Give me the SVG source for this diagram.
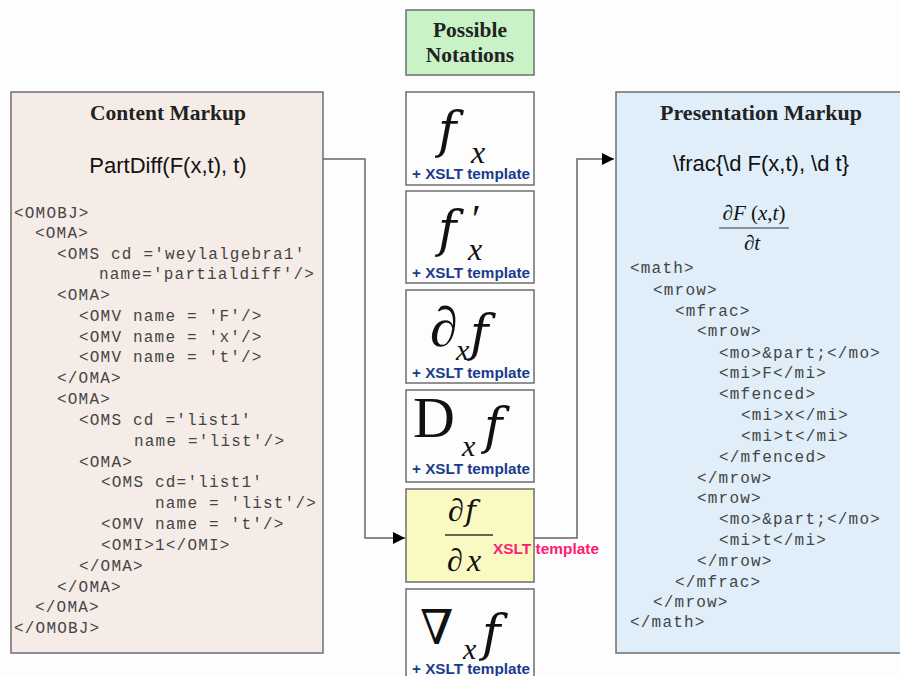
<svg xmlns="http://www.w3.org/2000/svg" width="900" height="676" viewBox="0 0 900 676">
<style>
.box{stroke:#6e6e6e;stroke-width:1.5}
.title{font-family:"Liberation Serif",serif;font-weight:bold;font-size:21.5px;fill:#222;text-anchor:middle}
.expr{font-family:"Liberation Sans",Arial,sans-serif;font-size:22px;fill:#111;text-anchor:middle}
.code{font-family:"Liberation Mono","Courier New",monospace;font-size:16px;letter-spacing:1.2px;fill:#444;white-space:pre}
.m{font-family:"Liberation Serif","DejaVu Serif",serif;fill:#111}
.i{font-style:italic}
.fi{font-family:"DejaVu Serif",serif;font-style:italic;fill:#111}
.xslt{font-family:"Liberation Sans",Arial,sans-serif;font-weight:bold;font-size:14px;fill:#1a3b8c}
.conn{fill:none;stroke:#666;stroke-width:1.5}
</style>
<defs>
<marker id="arr" viewBox="0 0 10 10" refX="10" refY="5" markerWidth="14" markerHeight="12" markerUnits="userSpaceOnUse" orient="auto">
<path d="M0,0 L10,5 L0,10 Z" fill="#000"/>
</marker>
</defs>
<rect width="900" height="676" fill="#fdfdfd"/>

<g id="connectors">
<path class="conn" d="M323,159 H365 V538 H405" marker-end="url(#arr)"/>
<path class="conn" d="M534,538 H577 V159 H614" marker-end="url(#arr)"/>
</g>

<g id="content-markup">
<rect class="box" x="11" y="92" width="312" height="561" fill="#f5ece8"/>
<text class="title" x="168" y="120">Content Markup</text>
<text class="expr" x="168" y="173">PartDiff(F(x,t), t)</text>
<text class="code" x="14" y="218">&lt;OMOBJ&gt;</text>
<text class="code" x="35" y="238">&lt;OMA&gt;</text>
<text class="code" x="57" y="259">&lt;OMS cd ='weylalgebra1'</text>
<text class="code" x="99" y="279">name='partialdiff'/&gt;</text>
<text class="code" x="57" y="300">&lt;OMA&gt;</text>
<text class="code" x="79" y="321">&lt;OMV name = 'F'/&gt;</text>
<text class="code" x="79" y="342">&lt;OMV name = 'x'/&gt;</text>
<text class="code" x="79" y="362">&lt;OMV name = 't'/&gt;</text>
<text class="code" x="57" y="383">&lt;/OMA&gt;</text>
<text class="code" x="57" y="404">&lt;OMA&gt;</text>
<text class="code" x="79" y="425">&lt;OMS cd ='list1'</text>
<text class="code" x="134" y="446">name ='list'/&gt;</text>
<text class="code" x="79" y="467">&lt;OMA&gt;</text>
<text class="code" x="101" y="487">&lt;OMS cd='list1'</text>
<text class="code" x="155" y="508">name = 'list'/&gt;</text>
<text class="code" x="101" y="529">&lt;OMV name = 't'/&gt;</text>
<text class="code" x="101" y="550">&lt;OMI&gt;1&lt;/OMI&gt;</text>
<text class="code" x="79" y="571">&lt;/OMA&gt;</text>
<text class="code" x="57" y="592">&lt;/OMA&gt;</text>
<text class="code" x="35" y="612">&lt;/OMA&gt;</text>
<text class="code" x="14" y="633">&lt;/OMOBJ&gt;</text>
</g>

<g id="possible-notations">
<rect class="box" x="406" y="10" width="128" height="65" fill="#c9f2c6"/>
<text class="title" x="470" y="37">Possible</text>
<text class="title" x="470" y="62">Notations</text>
</g>

<g id="notation-fx">
<rect class="box" x="406" y="92" width="128" height="93" fill="#fdfdfd"/>
<text class="fi" x="438" y="147" font-size="50">f</text>
<text class="m i" x="471" y="163" font-size="32">x</text>
<text class="xslt" x="412" y="179" textLength="118" lengthAdjust="spacingAndGlyphs">+ XSLT template</text>
</g>

<g id="notation-fprime">
<rect class="box" x="406" y="191" width="128" height="92" fill="#fdfdfd"/>
<text class="fi" x="438" y="246" font-size="50">f</text>
<text class="m" x="472" y="232" font-size="40">′</text>
<text class="m i" x="468" y="260" font-size="32">x</text>
<text class="xslt" x="412" y="278" textLength="118" lengthAdjust="spacingAndGlyphs">+ XSLT template</text>
</g>

<g id="notation-partial">
<rect class="box" x="406" y="290" width="128" height="93" fill="#fdfdfd"/>
<text class="m" x="430" y="346" font-size="56">∂</text>
<text class="m i" x="456" y="360" font-size="30">x</text>
<text class="fi" x="470" y="350" font-size="50">f</text>
<text class="xslt" x="412" y="378" textLength="118" lengthAdjust="spacingAndGlyphs">+ XSLT template</text>
</g>

<g id="notation-D">
<rect class="box" x="406" y="390" width="128" height="92" fill="#fdfdfd"/>
<text class="m" x="413" y="437" font-size="58">D</text>
<text class="m i" x="462" y="456" font-size="30">x</text>
<text class="fi" x="484" y="443" font-size="50">f</text>
<text class="xslt" x="412" y="474" textLength="118" lengthAdjust="spacingAndGlyphs">+ XSLT template</text>
</g>

<g id="notation-frac">
<rect class="box" x="406" y="489" width="128" height="93" fill="#fbf9c2"/>
<text class="m" x="448" y="521" font-size="32">∂</text>
<text class="fi" x="465" y="521" font-size="30">f</text>
<line x1="445" y1="535" x2="493" y2="535" stroke="#333" stroke-width="1.5"/>
<text class="m" x="447" y="571" font-size="32">∂</text>
<text class="m i" x="467" y="571" font-size="32">x</text>
<text class="xslt" x="493" y="554" textLength="106" lengthAdjust="spacingAndGlyphs" style="fill:#ff1a75">XSLT template</text>
</g>

<g id="notation-nabla">
<rect class="box" x="406" y="589" width="128" height="95" fill="#fdfdfd"/>
<text class="m" x="420" y="644" font-size="48">∇</text>
<text class="m i" x="463" y="659" font-size="30">x</text>
<text class="fi" x="482" y="650" font-size="50">f</text>
<text class="xslt" x="412" y="674" textLength="118" lengthAdjust="spacingAndGlyphs">+ XSLT template</text>
</g>

<g id="presentation-markup">
<rect class="box" x="616" y="92" width="290" height="561" fill="#dfeef9"/>
<text class="title" x="761" y="120" style="font-size:22px">Presentation Markup</text>
<text class="expr" x="761" y="171">\frac{\d F(x,t), \d t}</text>
<text class="m" x="754" y="220" font-size="21" text-anchor="middle"><tspan>∂</tspan><tspan font-style="italic">F</tspan> (<tspan font-style="italic">x</tspan>,<tspan font-style="italic">t</tspan>)</text>
<line x1="719" y1="228" x2="789" y2="228" stroke="#333" stroke-width="1.2"/>
<text class="m" x="752" y="250" font-size="21" text-anchor="middle"><tspan>∂</tspan><tspan font-style="italic">t</tspan></text>
<text class="code" x="630" y="273">&lt;math&gt;</text>
<text class="code" x="653" y="295">&lt;mrow&gt;</text>
<text class="code" x="675" y="316">&lt;mfrac&gt;</text>
<text class="code" x="697" y="336">&lt;mrow&gt;</text>
<text class="code" x="719" y="358">&lt;mo&gt;&amp;part;&lt;/mo&gt;</text>
<text class="code" x="719" y="378">&lt;mi&gt;F&lt;/mi&gt;</text>
<text class="code" x="719" y="399">&lt;mfenced&gt;</text>
<text class="code" x="741" y="420">&lt;mi&gt;x&lt;/mi&gt;</text>
<text class="code" x="741" y="441">&lt;mi&gt;t&lt;/mi&gt;</text>
<text class="code" x="719" y="462">&lt;/mfenced&gt;</text>
<text class="code" x="697" y="483">&lt;/mrow&gt;</text>
<text class="code" x="697" y="503">&lt;mrow&gt;</text>
<text class="code" x="719" y="524">&lt;mo&gt;&amp;part;&lt;/mo&gt;</text>
<text class="code" x="719" y="545">&lt;mi&gt;t&lt;/mi&gt;</text>
<text class="code" x="697" y="566">&lt;/mrow&gt;</text>
<text class="code" x="675" y="587">&lt;/mfrac&gt;</text>
<text class="code" x="653" y="607">&lt;/mrow&gt;</text>
<text class="code" x="630" y="627">&lt;/math&gt;</text>
</g>
</svg>
